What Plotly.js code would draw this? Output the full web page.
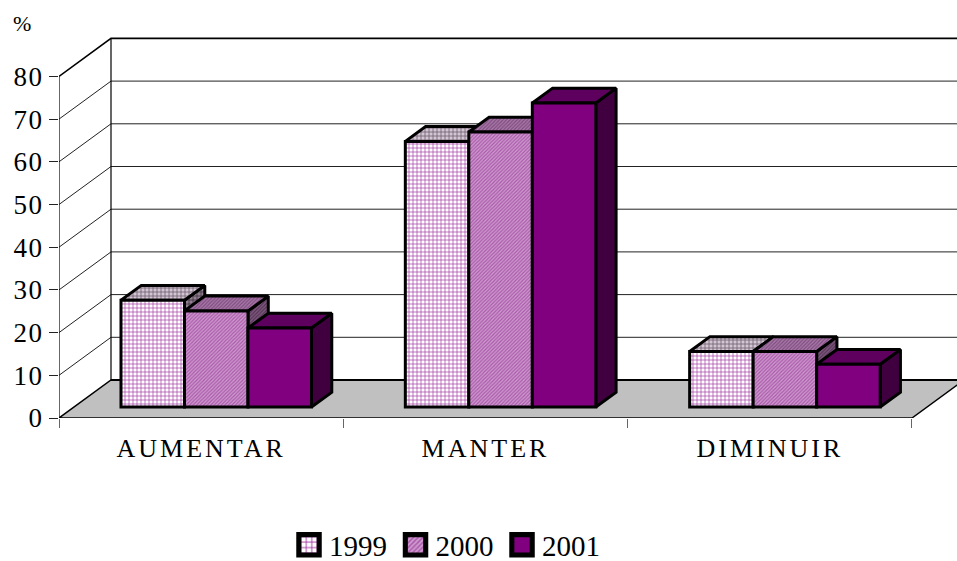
<!DOCTYPE html>
<html><head><meta charset="utf-8">
<script src="https://cdn.plot.ly/plotly-3.0.1.min.js"></script>
<style>
html,body{margin:0;padding:0;background:#fff;overflow:hidden}
.ytick text{letter-spacing:1.5px}
.x2tick text{letter-spacing:3px}
.legendpoints path{transform:translate(20px,0) scale(1.7) !important}
</style></head><body><div id="c" style="width:957px;height:561px"></div>
<script>
const categories=['AUMENTAR','MANTER','DIMINUIR'];
const years=['1999','2000','2001'];
const v1999=[25,62.2,13];
const v2000=[22.5,64.4,13];
const v2001=[18.5,71.2,10];
const yTicks=[0,10,20,30,40,50,60,70,80];
const series=[v1999,v2000,v2001];

const pxX=284.33, pxY=4.27;
const DX=52/pxX, DY=38/pxY, W=63.5/pxX, F1=0.29, F2=0.68, xMax=898/pxX, yMax=388/pxY;
const GAP=(1-3*W)/2;
const serif='"Liberation Serif"';

const looks=[
 {front:{shape:'+',fgcolor:'#a030a0',bgcolor:'#ffffff',size:4,solidity:0.3},
  top:{shape:'+',fgcolor:'#6d5a6d',bgcolor:'#d2c6d2',size:4,solidity:0.35},
  side:{shape:'+',fgcolor:'#3d2d3d',bgcolor:'#8f7f8f',size:4,solidity:0.35}},
 {front:{shape:'/',fgcolor:'#a857a8',bgcolor:'#d09cd0',size:2.5,solidity:0.45},
  top:{shape:'/',fgcolor:'#7e4a7e',bgcolor:'#a97ba9',size:2.5,solidity:0.45},
  side:{shape:'/',fgcolor:'#553355',bgcolor:'#7f5a7f',size:2.5,solidity:0.45}},
 {front:{color:'#800080'},top:{color:'#5e005e'},side:{color:'#400040'}}
];

const traces=[];
traces.push({x:[0,3,3+DX,DX,0],y:[0,0,DY,DY,0],mode:'lines',fill:'toself',fillcolor:'#c0c0c0',
 line:{color:'#000',width:1.5},showlegend:false,hoverinfo:'skip',cliponaxis:false});
const gx=[],gy=[];
yTicks.forEach(t=>{ if(t>0&&t<80){gx.push(0,DX,xMax,null);gy.push(t,t+DY,t+DY,null);} });
traces.push({x:gx,y:gy,mode:'lines',line:{color:'#222',width:1},showlegend:false,hoverinfo:'skip'});
traces.push({x:[0,0,null,DX,DX],y:[0,80,null,DY,80+DY],mode:'lines',line:{color:'#000',width:1.2},showlegend:false,hoverinfo:'skip'});
traces.push({x:[0,DX,xMax],y:[80,80+DY,80+DY],mode:'lines',line:{color:'#000',width:1.6},showlegend:false,hoverinfo:'skip'});
traces.push({x:[DX,xMax],y:[DY,DY],mode:'lines',line:{color:'#000',width:2},showlegend:false,hoverinfo:'skip'});

function face(xs,ys,look){
 const t={x:xs,y:ys,mode:'lines',fill:'toself',line:{color:'#000',width:3},showlegend:false,hoverinfo:'skip'};
 if(look.color) t.fillcolor=look.color; else t.fillpattern=look;
 return t;
}
const base=F1*DY, d=(F2-F1)*DX, h=(F2-F1)*DY;
categories.forEach((c,i)=>{
 series.forEach((vals,j)=>{
  const xl=i+GAP+F1*DX+W*j, xr=xl+W, v=vals[i];
  traces.push(face([xr,xr+d,xr+d,xr,xr],[base,base+h,base+v+h,base+v,base],looks[j].side));
  traces.push(face([xl,xr,xr+d,xl+d,xl],[base+v,base+v,base+v+h,base+v+h,base+v],looks[j].top));
 });
});
series.forEach((vals,j)=>{
 const m=looks[j].front;
 const marker={line:{color:'#000',width:3}};
 if(m.color) marker.color=m.color; else {marker.color=m.bgcolor;marker.pattern=m;}
 traces.push({type:'bar',name:years[j],xaxis:'x2',yaxis:'y2',
  x:categories.map((c,i)=>i+GAP+F1*DX+W*(j+.5)),y:vals,base:vals.map(()=>base),width:W,marker:marker,hoverinfo:'skip'});
});

const layout={
 width:957,height:561,autosize:false,showlegend:true,
 margin:{l:59,r:0,t:30,b:143},
 paper_bgcolor:'#fff',plot_bgcolor:'#fff',barmode:'overlay',
 font:{family:serif,color:'#000'},
 xaxis:{range:[0,xMax],tickmode:'array',tickvals:[0,1,2,3],ticktext:['','','',''],ticks:'outside',ticklen:9,tickcolor:'#666',tickwidth:1,showgrid:false,zeroline:false,showline:false,fixedrange:true},
 yaxis:{range:[0,yMax],tickmode:'array',tickvals:yTicks,ticks:'outside',ticklen:9,tickcolor:'#222',tickwidth:1,showgrid:false,zeroline:false,showline:false,tickfont:{size:27,family:serif},fixedrange:true},
 xaxis2:{overlaying:'x',anchor:'y2',side:'bottom',range:[0,xMax],tickmode:'array',tickvals:[0.5,1.5,2.5],ticktext:categories,ticks:'outside',ticklen:7,tickcolor:'rgba(0,0,0,0)',showgrid:false,zeroline:false,showline:false,tickfont:{size:26,family:serif},fixedrange:true},
 yaxis2:{overlaying:'y',anchor:'x2',range:[0,yMax],visible:false,fixedrange:true},
 legend:{orientation:'h',xref:'container',yref:'container',x:0.302,xanchor:'left',y:0.0285,yanchor:'middle',font:{size:29,family:serif},itemwidth:30,entrywidth:61.5,entrywidthmode:'pixels',traceorder:'normal',bgcolor:'rgba(0,0,0,0)'},
 annotations:[{text:'%',xref:'paper',yref:'paper',x:-0.054,y:1.054,showarrow:false,font:{size:22,family:serif}}]
};
Plotly.newPlot('c',traces,layout,{displayModeBar:false,staticPlot:true});
</script></body></html>
